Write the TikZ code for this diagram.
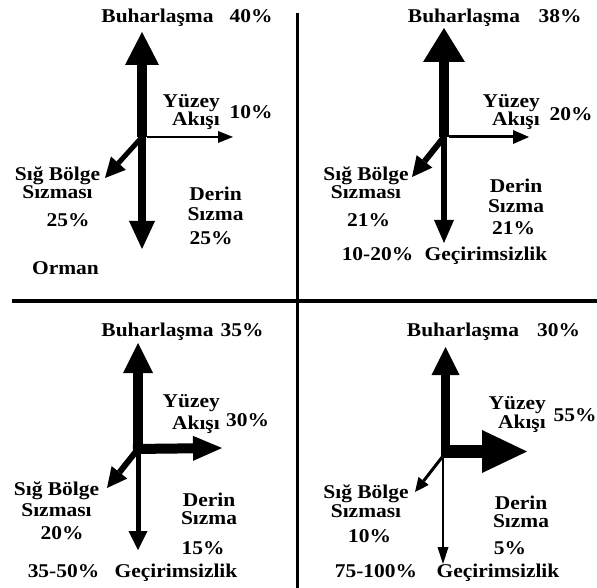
\documentclass[tikz,border=0pt]{standalone}
\usepackage{fontspec}
\setmainfont{Liberation Serif}[FakeStretch=1.1]
\usetikzlibrary{arrows.meta}
\tikzset{
  etiket/.style={font=\fontsize{19.5}{17}\selectfont\bfseries, inner sep=0pt, align=center, anchor=base},
  sagyaz/.style={etiket, align=right, anchor=base east},
  akis/.style n args={3}{line width=#1pt, -{Triangle[length=#2pt, width=#3pt, line width=0pt]}},
  ayrac/.style={line width=3.5pt},
}

\begin{document}
\begin{tikzpicture}[x=1pt, y=-1pt]
  \useasboundingbox (0,0) rectangle (597,588);
  % ayraclar
  \draw[ayrac] (297.5,13) -- (297.5,588);
  \draw[ayrac] (12,301) -- (597,301);

  % --- Orman
  \coordinate (m1) at (142,137);
  \coordinate (m1b) at (142,32);
  \coordinate (m1d) at (142,249);
  \coordinate (m1y) at (233,137);
  \coordinate (m1s) at (105,178);
  \draw[akis={10}{33}{34}] (m1) -- (m1b);
  \draw[akis={8}{28}{26}] (m1) -- (m1d);
  \draw[akis={2}{15}{12}] ([xshift=5pt]m1) -- (m1y);
  \draw[akis={5}{20}{20}] (m1) -- (m1s);
  \node[etiket] (bh1) at (157.5,23) {Buharlaşma};
  \node[etiket] (bp1) at (251,23) {40\%};
  \node[sagyaz] (yz1) at (220,126) {Yüzey\\Akışı};
  \node[etiket] (yp1) at (251,119) {10\%};
  \node[etiket] (sb1) at (57.5,199) {Sığ Bölge\\Sızması};
  \node[etiket] (sp1) at (68,226) {25\%};
  \node[etiket] (ds1) at (215.5,221) {Derin\\[3pt]Sızma};
  \node[etiket] (dp1) at (211,244) {25\%};
  \node[etiket] (or1) at (65.5,274) {Orman};

  % --- 10-20%
  \coordinate (m2) at (444,137);
  \coordinate (m2b) at (444,28);
  \coordinate (m2d) at (444,243);
  \coordinate (m2y) at (529,137);
  \coordinate (m2s) at (412,177);
  \draw[akis={10}{34}{42}] (m2) -- (m2b);
  \draw[akis={6}{23}{20}] (m2) -- (m2d);
  \draw[akis={3}{16}{14}] ([xshift=5pt]m2) -- (m2y);
  \draw[akis={6}{20}{20}] (m2) -- (m2s);
  \node[etiket] (bh2) at (464,23) {Buharlaşma};
  \node[etiket] (bp2) at (560,23) {38\%};
  \node[sagyaz] (yz2) at (540,126) {Yüzey\\Akışı};
  \node[etiket] (yp2) at (571,121) {20\%};
  \node[etiket] (sb2) at (366,199) {Sığ Bölge\\Sızması};
  \node[etiket] (sp2) at (368.5,226) {21\%};
  \node[etiket] (ds2) at (516,213) {Derin\\[3pt]Sızma};
  \node[etiket] (dp2) at (513.5,234) {21\%};
  \node[etiket] (gy2) at (377.5,261) {10-20\%};
  \node[etiket] (gc2) at (486,261) {Geçirimsizlik};

  % --- 35-50%
  \coordinate (m3) at (138,449);
  \coordinate (m3b) at (138,343);
  \coordinate (m3d) at (138,550);
  \coordinate (m3y) at (222,448);
  \coordinate (m3s) at (107,488);
  \draw[akis={10}{30}{30}] (m3) -- (m3b);
  \draw[akis={5}{19}{19}] (m3) -- (m3d);
  \draw[akis={10}{29}{25}] ([xshift=-5pt]m3) -- (m3y);
  \draw[akis={6}{20}{20}] (m3) -- (m3s);
  \node[etiket] (bh3) at (157.5,336) {Buharlaşma};
  \node[etiket] (bp3) at (242,336) {35\%};
  \node[sagyaz] (yz3) at (220,429) {Yüzey\\[3pt]Akışı};
  \node[etiket] (yp3) at (247.5,426) {30\%};
  \node[etiket] (sb3) at (56.5,516) {Sığ Bölge\\[2pt]Sızması};
  \node[etiket] (sp3) at (62,539) {20\%};
  \node[etiket] (ds3) at (209,524) {Derin\\[1pt]Sızma};
  \node[etiket] (dp3) at (203,554) {15\%};
  \node[etiket] (gy3) at (63.5,577) {35-50\%};
  \node[etiket] (gc3) at (176,577) {Geçirimsizlik};

  % --- 75-100%
  \coordinate (m4) at (443,456);
  \coordinate (m4k) at (445.5,458);
  \coordinate (m4b) at (445.5,347);
  \coordinate (m4o) at (441,451.5);
  \coordinate (m4y) at (527,451.5);
  \coordinate (m4d) at (443,564);
  \coordinate (m4s) at (415,492);
  \draw[akis={9}{28}{28}] (m4k) -- (m4b);
  \draw[akis={13}{45}{43}] (m4o) -- (m4y);
  \draw[akis={1.5}{17}{11}] (m4) -- (m4d);
  \draw[akis={3}{14}{13}] (m4) -- (m4s);
  \node[etiket] (bh4) at (463,336) {Buharlaşma};
  \node[etiket] (bp4) at (558.5,336) {30\%};
  \node[sagyaz] (yz4) at (546,428) {Yüzey\\Akışı};
  \node[etiket] (yp4) at (575,421) {55\%};
  \node[etiket] (sb4) at (366,517) {Sığ Bölge\\Sızması};
  \node[etiket] (sp4) at (369.5,542) {10\%};
  \node[etiket] (ds4) at (521,527) {Derin\\[1pt]Sızma};
  \node[etiket] (dp4) at (510,554) {5\%};
  \node[etiket] (gy4) at (376,577) {75-100\%};
  \node[etiket] (gc4) at (498,577) {Geçirimsizlik};
\end{tikzpicture}
\end{document}
